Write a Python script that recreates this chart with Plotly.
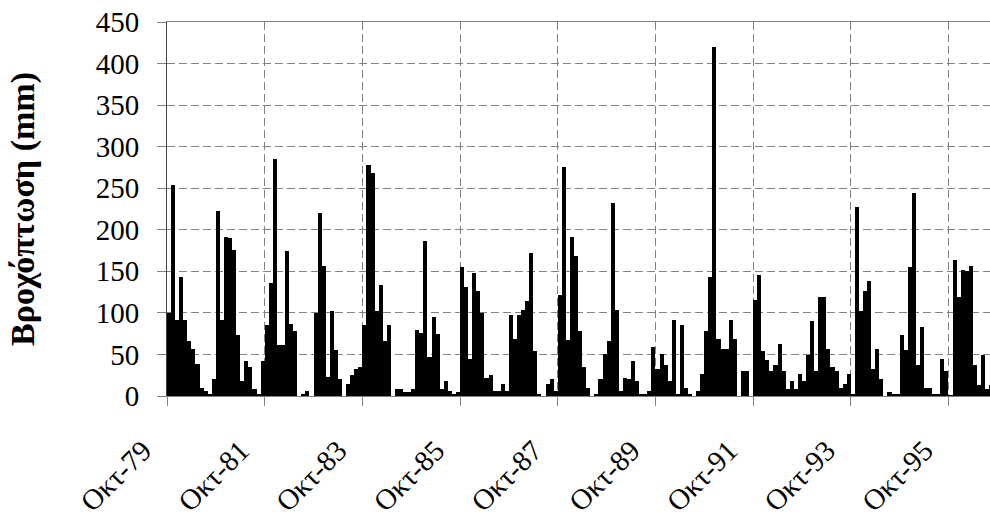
import plotly.graph_objects as go

# Monthly rainfall (mm), grouped by two hydrological years
rain_oct79_sep81 = [100, 254, 92, 143, 92, 66, 56, 39, 10, 6, 3, 20,
                    223, 92, 191, 190, 176, 73, 18, 42, 35, 8, 3, 42]
rain_oct81_sep83 = [85, 136, 285, 61, 61, 174, 87, 78, 0, 3, 6, 0,
                    100, 220, 157, 23, 102, 55, 20, 0, 15, 25, 32, 35]
rain_oct83_sep85 = [85, 278, 268, 102, 133, 66, 85, 0, 8, 8, 5, 5,
                    8, 80, 76, 187, 47, 95, 75, 8, 18, 6, 3, 5]
rain_oct85_sep87 = [155, 131, 45, 148, 126, 100, 22, 25, 6, 6, 15, 6,
                    97, 68, 97, 104, 114, 172, 54, 3, 0, 15, 20, 6]
rain_oct87_sep89 = [121, 275, 67, 191, 169, 78, 35, 10, 0, 3, 20, 51,
                    66, 232, 104, 6, 22, 20, 42, 18, 3, 3, 6, 59]
rain_oct89_sep91 = [32, 51, 37, 18, 92, 3, 85, 10, 3, 0, 6, 27,
                    78, 143, 420, 68, 56, 56, 92, 68, 0, 30, 30, 0]
rain_oct91_sep93 = [116, 145, 54, 43, 30, 37, 63, 30, 8, 18, 8, 27,
                    18, 49, 90, 30, 119, 119, 56, 35, 30, 10, 15, 27]
rain_oct93_sep95 = [2, 227, 102, 126, 138, 32, 56, 20, 0, 5, 2, 2,
                    73, 55, 155, 244, 37, 83, 10, 10, 3, 3, 44, 30]
rain_oct95_on = [1, 164, 119, 152, 150, 157, 37, 13, 49, 8, 13]

tick_labels = ["Οκτ-79", "Οκτ-81", "Οκτ-83", "Οκτ-85", "Οκτ-87",
               "Οκτ-89", "Οκτ-91", "Οκτ-93", "Οκτ-95"]
months_between_labels = 24
y_title = "Βροχόπτωση (mm)"

rain = (rain_oct79_sep81 + rain_oct81_sep83 + rain_oct83_sep85 + rain_oct85_sep87
        + rain_oct87_sep89 + rain_oct89_sep91 + rain_oct91_sep93 + rain_oct93_sep95
        + rain_oct95_on)
month_index = [i + 0.5 for i in range(len(rain))]
tick_positions = [k * months_between_labels for k in range(len(tick_labels))]

FONT = "Liberation Serif"
GRID = "#808080"

fig = go.Figure(go.Bar(x=month_index, y=rain, width=1.0,
                       marker=dict(color="black", line=dict(width=0)),
                       showlegend=False))

fig.update_layout(
    width=990, height=517,
    margin=dict(l=167, r=0, t=22, b=121),
    paper_bgcolor="white", plot_bgcolor="white",
    bargap=0,
    font=dict(family=FONT, size=29, color="black"),
)
fig.update_xaxes(
    automargin=False,
    range=[0, 202.2],
    tickmode="array", tickvals=tick_positions, ticktext=tick_labels,
    tickangle=-45, ticks="outside", ticklen=9, tickcolor=GRID,
    ticklabelstandoff=16, ticklabelshift=-24,
    showgrid=True, gridcolor=GRID, gridwidth=1, griddash="8px,4px",
    showline=True, linecolor=GRID, linewidth=1, mirror=True,
    zeroline=False,
    tickfont=dict(family=FONT, size=29, color="black"),
)
fig.update_yaxes(
    automargin=False,
    range=[0, 450], tickmode="linear", tick0=0, dtick=50,
    ticks="outside", ticklen=9, tickcolor=GRID,
    ticklabelstandoff=12,
    showgrid=True, gridcolor=GRID, gridwidth=1, griddash="8px,4px",
    showline=True, linecolor="#404040", linewidth=1,
    zeroline=False,
    tickfont=dict(family=FONT, size=29, color="black"),
    title=dict(text="<b>" + y_title + "</b>", font=dict(family=FONT, size=34, color="black"),
               standoff=50),
)

fig.write_html("out.html")
